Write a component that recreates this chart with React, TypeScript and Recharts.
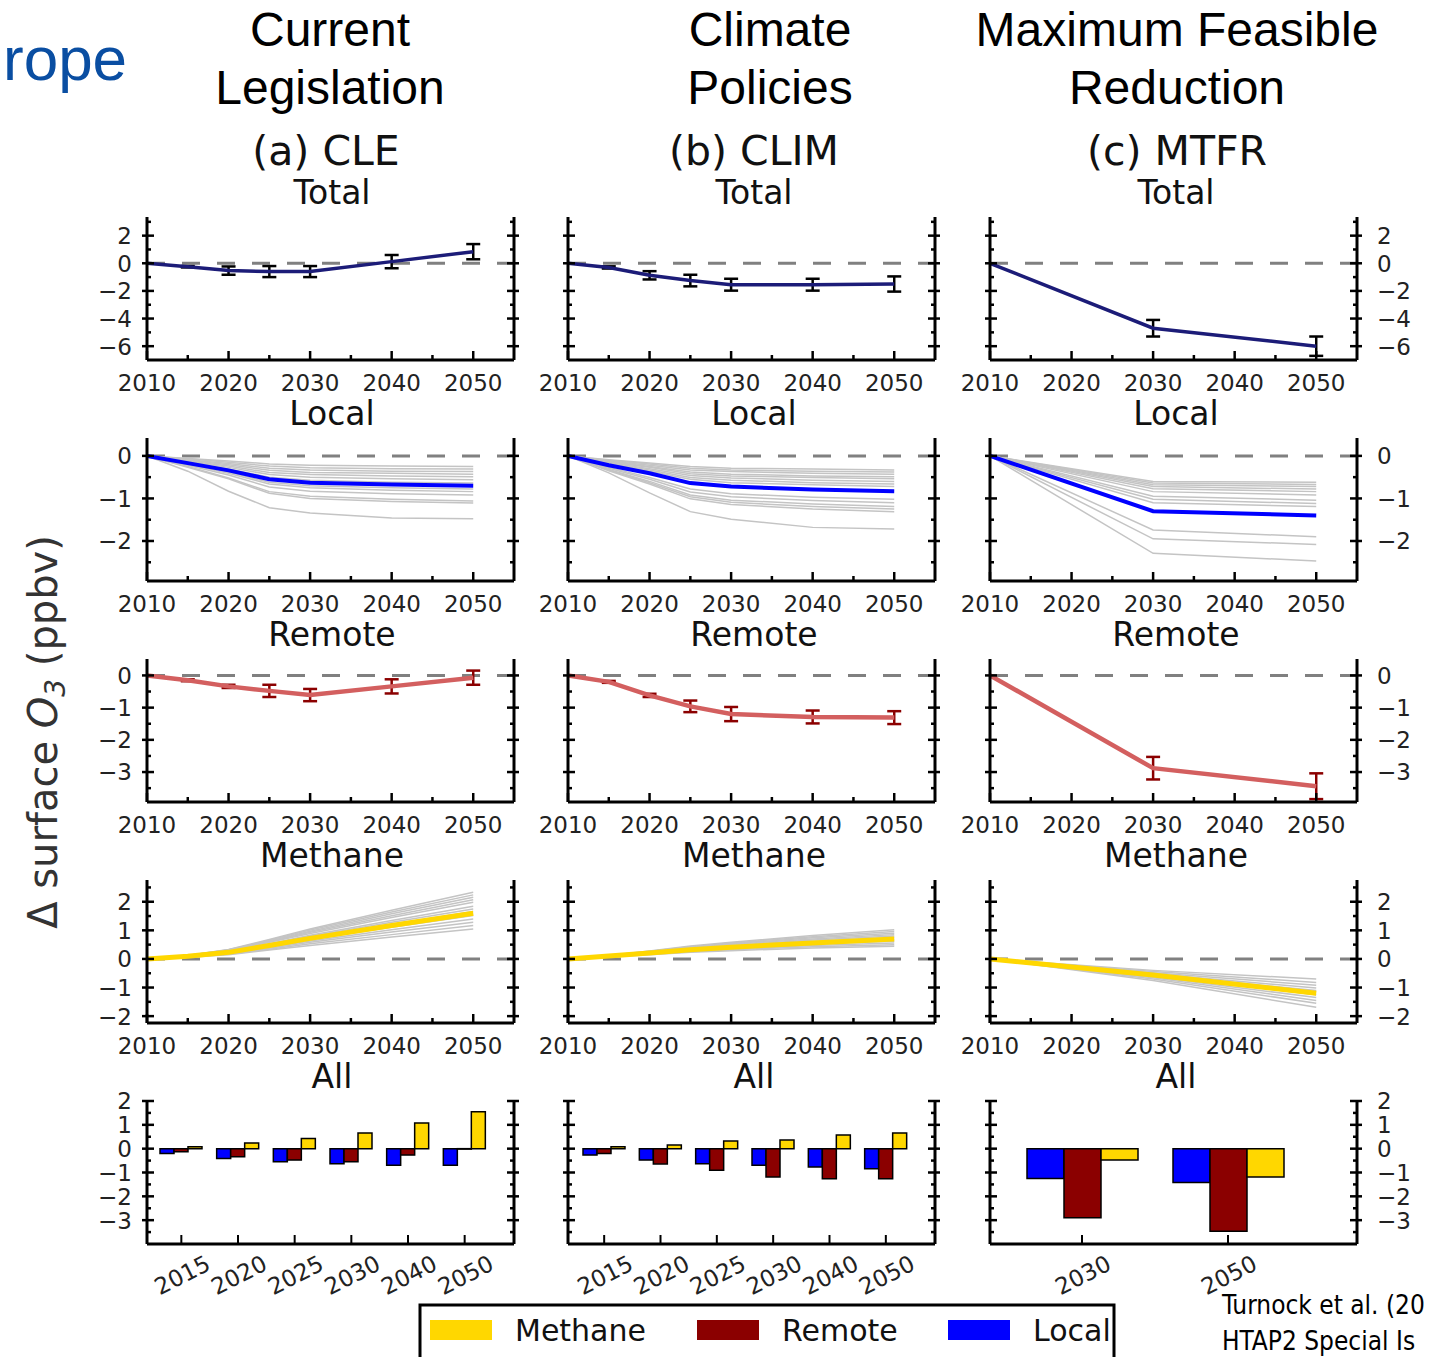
import { ComposedChart, Line, Bar, XAxis, YAxis, ReferenceLine, ErrorBar } from "recharts";

// ---- data ----
const YEARS = [2010, 2015, 2020, 2025, 2030, 2040, 2050];
const YEARS_MTFR = [2010, 2030, 2050];
const X_MAJOR = [2010, 2020, 2030, 2040, 2050];
const X_MINOR = [2015, 2025, 2035, 2045];

const BAR_CATS = ["2015", "2020", "2025", "2030", "2040", "2050"];
const BAR_CATS_MTFR = ["2030", "2050"];

// Total
const CLE_TOTAL = [0, -0.25, -0.53, -0.6, -0.6, 0.12, 0.84];
const CLE_TOTAL_ERR = [0, 0.05, 0.3, 0.4, 0.4, 0.48, 0.55];
const CLIM_TOTAL = [0, -0.3, -0.87, -1.25, -1.55, -1.55, -1.5];
const CLIM_TOTAL_ERR = [0, 0.08, 0.3, 0.42, 0.43, 0.43, 0.55];
const MTFR_TOTAL = [0, -4.7, -6.0];
const MTFR_TOTAL_ERR = [0, 0.6, 0.7];

// Local
const CLE_LOCAL = [0, -0.17, -0.34, -0.55, -0.63, -0.67, -0.7];
const CLE_LOCAL_GRAY = [
  [0, -0.06, -0.12, -0.19, -0.22, -0.24, -0.25],
  [0, -0.07, -0.15, -0.24, -0.28, -0.3, -0.31],
  [0, -0.09, -0.18, -0.29, -0.33, -0.36, -0.37],
  [0, -0.1, -0.21, -0.34, -0.39, -0.41, -0.43],
  [0, -0.12, -0.24, -0.39, -0.44, -0.47, -0.49],
  [0, -0.13, -0.27, -0.44, -0.5, -0.54, -0.56],
  [0, -0.15, -0.31, -0.5, -0.57, -0.62, -0.64],
  [0, -0.19, -0.38, -0.62, -0.7, -0.75, -0.78],
  [0, -0.2, -0.41, -0.66, -0.75, -0.81, -0.84],
  [0, -0.22, -0.45, -0.73, -0.83, -0.89, -0.92],
  [0, -0.25, -0.52, -0.84, -0.95, -1.02, -1.06],
  [0, -0.27, -0.54, -0.88, -1.0, -1.07, -1.11],
  [0, -0.36, -0.83, -1.22, -1.34, -1.46, -1.48],
];
const CLIM_LOCAL = [0, -0.22, -0.41, -0.64, -0.72, -0.79, -0.83];
const CLIM_LOCAL_GRAY = [
  [0, -0.09, -0.17, -0.25, -0.29, -0.31, -0.33],
  [0, -0.1, -0.19, -0.29, -0.33, -0.36, -0.38],
  [0, -0.12, -0.22, -0.33, -0.37, -0.41, -0.43],
  [0, -0.13, -0.25, -0.38, -0.43, -0.47, -0.49],
  [0, -0.15, -0.27, -0.42, -0.47, -0.51, -0.54],
  [0, -0.16, -0.3, -0.46, -0.52, -0.57, -0.6],
  [0, -0.18, -0.33, -0.51, -0.57, -0.63, -0.66],
  [0, -0.2, -0.36, -0.55, -0.63, -0.68, -0.72],
  [0, -0.27, -0.51, -0.78, -0.89, -0.97, -1.02],
  [0, -0.29, -0.55, -0.85, -0.96, -1.05, -1.1],
  [0, -0.32, -0.6, -0.92, -1.04, -1.13, -1.19],
  [0, -0.33, -0.63, -0.96, -1.09, -1.19, -1.25],
  [0, -0.35, -0.66, -1.01, -1.14, -1.25, -1.31],
  [0, -0.4, -0.87, -1.31, -1.49, -1.68, -1.72],
];
const MTFR_LOCAL = [0, -1.3, -1.4];
const MTFR_LOCAL_GRAY = [
  [0, -0.6, -0.62],
  [0, -0.64, -0.67],
  [0, -0.68, -0.72],
  [0, -0.72, -0.78],
  [0, -0.77, -0.84],
  [0, -0.84, -0.92],
  [0, -0.95, -1.04],
  [0, -1.02, -1.12],
  [0, -1.1, -1.19],
  [0, -1.74, -1.9],
  [0, -1.95, -2.08],
  [0, -2.29, -2.47],
];

// Remote
const CLE_REMOTE = [0, -0.15, -0.34, -0.48, -0.61, -0.34, -0.07];
const CLE_REMOTE_ERR = [0, 0.03, 0.05, 0.19, 0.19, 0.22, 0.22];
const CLIM_REMOTE = [0, -0.2, -0.62, -0.96, -1.2, -1.29, -1.31];
const CLIM_REMOTE_ERR = [0, 0.03, 0.05, 0.18, 0.22, 0.2, 0.2];
const MTFR_REMOTE = [0, -2.88, -3.44];
const MTFR_REMOTE_ERR = [0, 0.35, 0.4];

// Methane
const CLE_METH = [0, 0.09, 0.23, 0.47, 0.72, 1.17, 1.6];
const CLE_METH_GRAY = [
  [0, 0.12, 0.33, 0.68, 1.05, 1.7, 2.33],
  [0, 0.12, 0.32, 0.65, 1.01, 1.64, 2.24],
  [0, 0.12, 0.31, 0.63, 0.97, 1.58, 2.16],
  [0, 0.11, 0.3, 0.6, 0.93, 1.51, 2.07],
  [0, 0.11, 0.29, 0.58, 0.89, 1.45, 1.98],
  [0, 0.1, 0.26, 0.53, 0.83, 1.34, 1.84],
  [0, 0.1, 0.25, 0.51, 0.79, 1.28, 1.75],
  [0, 0.09, 0.24, 0.49, 0.75, 1.21, 1.66],
  [0, 0.08, 0.22, 0.45, 0.68, 1.11, 1.52],
  [0, 0.08, 0.2, 0.41, 0.63, 1.02, 1.4],
  [0, 0.07, 0.18, 0.37, 0.58, 0.94, 1.28],
  [0, 0.07, 0.17, 0.34, 0.53, 0.85, 1.17],
  [0, 0.06, 0.15, 0.31, 0.47, 0.77, 1.05],
];
const CLIM_METH = [0, 0.1, 0.21, 0.32, 0.41, 0.56, 0.7];
const CLIM_METH_GRAY = [
  [0, 0.12, 0.28, 0.45, 0.58, 0.82, 1.02],
  [0, 0.12, 0.27, 0.43, 0.56, 0.78, 0.96],
  [0, 0.11, 0.26, 0.41, 0.53, 0.74, 0.9],
  [0, 0.11, 0.25, 0.39, 0.51, 0.7, 0.85],
  [0, 0.1, 0.24, 0.37, 0.48, 0.66, 0.8],
  [0, 0.1, 0.23, 0.35, 0.45, 0.62, 0.75],
  [0, 0.09, 0.21, 0.32, 0.41, 0.56, 0.68],
  [0, 0.09, 0.2, 0.3, 0.38, 0.52, 0.62],
  [0, 0.08, 0.18, 0.27, 0.35, 0.47, 0.56],
  [0, 0.08, 0.17, 0.25, 0.32, 0.43, 0.5],
  [0, 0.07, 0.15, 0.23, 0.29, 0.38, 0.44],
];
const MTFR_METH = [0, -0.56, -1.2];
const MTFR_METH_GRAY = [
  [0, -0.4, -0.7],
  [0, -0.44, -0.82],
  [0, -0.48, -0.92],
  [0, -0.52, -1.02],
  [0, -0.55, -1.1],
  [0, -0.58, -1.25],
  [0, -0.62, -1.35],
  [0, -0.66, -1.45],
  [0, -0.7, -1.55],
  [0, -0.75, -1.69],
];

// All (bars)
const CLE_BAR_LOCAL = [-0.2, -0.41, -0.55, -0.63, -0.7, -0.7];
const CLE_BAR_REMOTE = [-0.13, -0.34, -0.48, -0.55, -0.27, -0.02];
const CLE_BAR_METH = [0.08, 0.24, 0.43, 0.66, 1.08, 1.55];
const CLIM_BAR_LOCAL = [-0.27, -0.48, -0.63, -0.7, -0.77, -0.84];
const CLIM_BAR_REMOTE = [-0.2, -0.64, -0.91, -1.19, -1.26, -1.26];
const CLIM_BAR_METH = [0.08, 0.15, 0.32, 0.36, 0.57, 0.66];
const MTFR_BAR_LOCAL = [-1.25, -1.42];
const MTFR_BAR_REMOTE = [-2.9, -3.46];
const MTFR_BAR_METH = [-0.48, -1.19];

// y axes per row
const TOTAL_MAJOR = [2, 0, -2, -4, -6];
const TOTAL_MINOR = [3, 1, -1, -3, -5];
const LOCAL_MAJOR = [0, -1, -2];
const LOCAL_MINOR = [-0.5, -1.5, -2.5];
const REMOTE_MAJOR = [0, -1, -2, -3];
const REMOTE_MINOR = [-0.5, -1.5, -2.5, -3.5];
const METH_MAJOR = [2, 1, 0, -1, -2];
const METH_MINOR = [2.5, 1.5, 0.5, -0.5, -1.5];
const BAR_MAJOR = [2, 1, 0, -1, -2, -3];
const BAR_MINOR = [1.5, 0.5, -0.5, -1.5, -2.5, -3.5];

const HEADERS = [
  ["Current", "Legislation"],
  ["Climate", "Policies"],
  ["Maximum Feasible", "Reduction"],
];
const SCENARIOS = ["(a) CLE", "(b) CLIM", "(c) MTFR"];
const ROW_TITLES = ["Total", "Local", "Remote", "Methane", "All"];
const LEGEND_LABELS = ["Methane", "Remote", "Local"];
const CITATION = ["Turnock et al. (20", "HTAP2 Special Is"];

// ---- styling / layout ----
const FONT = "'DejaVu Sans', sans-serif";
const NAVY = "#1c1c78";
const BLUE = "#0000ff";
const RED_LINE = "#d35f5f";
const DARK_RED = "#8b0000";
const GOLD = "#ffd700";
const GRAY = "#c4c4c4";
const LEGEND_COLORS = [GOLD, DARK_RED, BLUE];

const COL_LEFTS = [147, 568, 990];
const COL_CENTERS = [332, 754, 1176];
const ROW_TOPS = [217, 438, 659, 880, 1101];
const PW = 367;
const PH = 143;
const SIDE = 70;
const PAD_TOP = 22;
const AX = { stroke: "#000", strokeWidth: 3 };

const fmt = (v: number) => (v < 0 ? "\u2212" + Math.abs(v) : String(v));

function makeYTick(majors: number[], side: "left" | "right", labels: boolean) {
  return (p: any) => {
    const { x, y, payload } = p;
    const v = Number(payload.value);
    const major = majors.includes(v);
    const dir = side === "left" ? 1 : -1;
    return (
      <g>
        <line
          x1={x - dir * (major ? 5 : 0)}
          x2={x + dir * (major ? 7 : 4)}
          y1={y}
          y2={y}
          stroke="#000"
          strokeWidth={2.5}
        />
        {major && labels ? (
          <text
            x={side === "left" ? x - 15 : x + 20}
            y={y + 8.4}
            textAnchor={side === "left" ? "end" : "start"}
            fontSize={23}
            fontFamily={FONT}
            fill="#222"
          >
            {fmt(v)}
          </text>
        ) : null}
      </g>
    );
  };
}

const yearTick = (p: any) => {
  const { x, y, payload } = p;
  const major = X_MAJOR.includes(payload.value);
  return (
    <g>
      <line x1={x} x2={x} y1={y} y2={y - (major ? 9 : 5)} stroke="#000" strokeWidth={2.5} />
      {major ? (
        <text x={x} y={y + 31} textAnchor="middle" fontSize={23} fontFamily={FONT} fill="#222">
          {payload.value}
        </text>
      ) : null}
    </g>
  );
};

const catTick = (p: any) => {
  const { x, y, payload } = p;
  return (
    <g>
      <line x1={x} x2={x} y1={y} y2={y - 9} stroke="#000" strokeWidth={2} />
      <text
        x={x + 1}
        y={y + 31}
        textAnchor="middle"
        dominantBaseline="central"
        fontSize={23}
        fontFamily={FONT}
        fill="#222"
        transform={`rotate(-27 ${x + 1} ${y + 31})`}
      >
        {payload.value}
      </text>
    </g>
  );
};

interface LineProps {
  col: number;
  row: number;
  years: number[];
  main: number[];
  err?: number[];
  gray: number[][];
  color: string;
  lineWidth: number;
  errColor?: string;
  domain: [number, number];
  majors: number[];
  minors: number[];
}

function LinePanel({ col, row, years, main, err, gray, color, lineWidth, errColor, domain, majors, minors }: LineProps) {
  const data = years.map((yr, i) => {
    const r: Record<string, number | undefined> = { year: yr, v: main[i], e: err ? err[i] : undefined };
    gray.forEach((g, j) => {
      r["g" + j] = g[i];
    });
    return r;
  });
  const yt = [...majors, ...minors];
  return (
    <div style={{ position: "absolute", left: COL_LEFTS[col] - SIDE, top: ROW_TOPS[row] - PAD_TOP }}>
      <ComposedChart
        width={PW + 2 * SIDE}
        height={PAD_TOP + PH + 45}
        data={data}
        margin={{ top: PAD_TOP, right: 0, bottom: 0, left: 0 }}
      >
        <XAxis
          dataKey="year"
          type="number"
          domain={[2010, 2055]}
          allowDataOverflow
          ticks={[...X_MAJOR, ...X_MINOR]}
          interval={0}
          height={45}
          tickSize={0}
          tickMargin={0}
          tickLine={false}
          axisLine={AX}
          tick={yearTick}
        />
        <XAxis xAxisId="top" orientation="top" type="number" domain={[0, 1]} height={0} tick={false} tickLine={false} axisLine={AX} />
        <YAxis
          type="number"
          domain={domain}
          allowDataOverflow
          ticks={yt}
          interval={0}
          width={SIDE}
          tickSize={0}
          tickMargin={0}
          tickLine={false}
          axisLine={AX}
          tick={makeYTick(majors, "left", col === 0)}
        />
        <YAxis
          yAxisId="r"
          orientation="right"
          type="number"
          domain={domain}
          allowDataOverflow
          ticks={yt}
          interval={0}
          width={SIDE}
          tickSize={0}
          tickMargin={0}
          tickLine={false}
          axisLine={AX}
          tick={makeYTick(majors, "right", col === 2)}
        />
        <ReferenceLine y={0} stroke="#808080" strokeWidth={3} strokeDasharray="18 17" />
        {gray.map((_, j) => (
          <Line key={j} dataKey={"g" + j} stroke={GRAY} strokeWidth={1.5} dot={false} isAnimationActive={false} />
        ))}
        <Line dataKey="v" stroke={color} strokeWidth={lineWidth} dot={false} isAnimationActive={false}>
          {err ? <ErrorBar dataKey="e" direction="y" width={7} strokeWidth={2.5} stroke={errColor} /> : null}
        </Line>
      </ComposedChart>
    </div>
  );
}

interface BarProps {
  col: number;
  cats: string[];
  local: number[];
  remote: number[];
  methane: number[];
  padL: number;
  padR: number;
  barSize: number;
}

function BarPanel({ col, cats, local, remote, methane, padL, padR, barSize }: BarProps) {
  const data = cats.map((c, i) => ({ cat: c, local: local[i], remote: remote[i], methane: methane[i] }));
  const yt = [...BAR_MAJOR, ...BAR_MINOR];
  return (
    <div style={{ position: "absolute", left: COL_LEFTS[col] - SIDE, top: ROW_TOPS[4] - PAD_TOP }}>
      <ComposedChart
        width={PW + 2 * SIDE}
        height={PAD_TOP + PH + 65}
        data={data}
        margin={{ top: PAD_TOP, right: 0, bottom: 0, left: 0 }}
        barGap={0}
      >
        <XAxis
          dataKey="cat"
          type="category"
          padding={{ left: padL, right: padR }}
          interval={0}
          height={65}
          tickSize={0}
          tickMargin={0}
          tickLine={false}
          axisLine={AX}
          tick={catTick}
        />
        <XAxis xAxisId="top" orientation="top" type="number" domain={[0, 1]} height={0} tick={false} tickLine={false} axisLine={AX} />
        <YAxis
          type="number"
          domain={[-4, 2]}
          allowDataOverflow
          ticks={yt}
          interval={0}
          width={SIDE}
          tickSize={0}
          tickMargin={0}
          tickLine={false}
          axisLine={AX}
          tick={makeYTick(BAR_MAJOR, "left", col === 0)}
        />
        <YAxis
          yAxisId="r"
          orientation="right"
          type="number"
          domain={[-4, 2]}
          allowDataOverflow
          ticks={yt}
          interval={0}
          width={SIDE}
          tickSize={0}
          tickMargin={0}
          tickLine={false}
          axisLine={AX}
          tick={makeYTick(BAR_MAJOR, "right", col === 2)}
        />
        <Bar dataKey="local" fill={BLUE} stroke="#000" strokeWidth={1.5} barSize={barSize} isAnimationActive={false} />
        <Bar dataKey="remote" fill={DARK_RED} stroke="#000" strokeWidth={1.5} barSize={barSize} isAnimationActive={false} />
        <Bar dataKey="methane" fill={GOLD} stroke="#000" strokeWidth={1.5} barSize={barSize} isAnimationActive={false} />
      </ComposedChart>
    </div>
  );
}

const TOTAL_DOMAIN: [number, number] = [-7, 3.35];
const LOCAL_DOMAIN: [number, number] = [-2.94, 0.42];
const REMOTE_DOMAIN: [number, number] = [-3.93, 0.51];
const METH_DOMAIN: [number, number] = [-2.24, 2.76];

const LEGEND_X = [430, 697, 948];

export default function App() {
  return (
    <div
      style={{
        position: "absolute",
        left: 0,
        top: 0,
        width: 1435,
        height: 1357,
        overflow: "hidden",
        background: "#fff",
      }}
    >
      {/* Total */}
      <LinePanel col={0} row={0} years={YEARS} main={CLE_TOTAL} err={CLE_TOTAL_ERR} gray={[]} color={NAVY} lineWidth={3.5} errColor="#000" domain={TOTAL_DOMAIN} majors={TOTAL_MAJOR} minors={TOTAL_MINOR} />
      <LinePanel col={1} row={0} years={YEARS} main={CLIM_TOTAL} err={CLIM_TOTAL_ERR} gray={[]} color={NAVY} lineWidth={3.5} errColor="#000" domain={TOTAL_DOMAIN} majors={TOTAL_MAJOR} minors={TOTAL_MINOR} />
      <LinePanel col={2} row={0} years={YEARS_MTFR} main={MTFR_TOTAL} err={MTFR_TOTAL_ERR} gray={[]} color={NAVY} lineWidth={3.5} errColor="#000" domain={TOTAL_DOMAIN} majors={TOTAL_MAJOR} minors={TOTAL_MINOR} />
      {/* Local */}
      <LinePanel col={0} row={1} years={YEARS} main={CLE_LOCAL} gray={CLE_LOCAL_GRAY} color={BLUE} lineWidth={4} domain={LOCAL_DOMAIN} majors={LOCAL_MAJOR} minors={LOCAL_MINOR} />
      <LinePanel col={1} row={1} years={YEARS} main={CLIM_LOCAL} gray={CLIM_LOCAL_GRAY} color={BLUE} lineWidth={4} domain={LOCAL_DOMAIN} majors={LOCAL_MAJOR} minors={LOCAL_MINOR} />
      <LinePanel col={2} row={1} years={YEARS_MTFR} main={MTFR_LOCAL} gray={MTFR_LOCAL_GRAY} color={BLUE} lineWidth={4} domain={LOCAL_DOMAIN} majors={LOCAL_MAJOR} minors={LOCAL_MINOR} />
      {/* Remote */}
      <LinePanel col={0} row={2} years={YEARS} main={CLE_REMOTE} err={CLE_REMOTE_ERR} gray={[]} color={RED_LINE} lineWidth={4.5} errColor={DARK_RED} domain={REMOTE_DOMAIN} majors={REMOTE_MAJOR} minors={REMOTE_MINOR} />
      <LinePanel col={1} row={2} years={YEARS} main={CLIM_REMOTE} err={CLIM_REMOTE_ERR} gray={[]} color={RED_LINE} lineWidth={4.5} errColor={DARK_RED} domain={REMOTE_DOMAIN} majors={REMOTE_MAJOR} minors={REMOTE_MINOR} />
      <LinePanel col={2} row={2} years={YEARS_MTFR} main={MTFR_REMOTE} err={MTFR_REMOTE_ERR} gray={[]} color={RED_LINE} lineWidth={4.5} errColor={DARK_RED} domain={REMOTE_DOMAIN} majors={REMOTE_MAJOR} minors={REMOTE_MINOR} />
      {/* Methane */}
      <LinePanel col={0} row={3} years={YEARS} main={CLE_METH} gray={CLE_METH_GRAY} color={GOLD} lineWidth={5} domain={METH_DOMAIN} majors={METH_MAJOR} minors={METH_MINOR} />
      <LinePanel col={1} row={3} years={YEARS} main={CLIM_METH} gray={CLIM_METH_GRAY} color={GOLD} lineWidth={5} domain={METH_DOMAIN} majors={METH_MAJOR} minors={METH_MINOR} />
      <LinePanel col={2} row={3} years={YEARS_MTFR} main={MTFR_METH} gray={MTFR_METH_GRAY} color={GOLD} lineWidth={5} domain={METH_DOMAIN} majors={METH_MAJOR} minors={METH_MINOR} />
      {/* All */}
      <BarPanel col={0} cats={BAR_CATS} local={CLE_BAR_LOCAL} remote={CLE_BAR_REMOTE} methane={CLE_BAR_METH} padL={6} padR={21} barSize={14} />
      <BarPanel col={1} cats={BAR_CATS} local={CLIM_BAR_LOCAL} remote={CLIM_BAR_REMOTE} methane={CLIM_BAR_METH} padL={8} padR={21} barSize={14} />
      <BarPanel col={2} cats={BAR_CATS_MTFR} local={MTFR_BAR_LOCAL} remote={MTFR_BAR_REMOTE} methane={MTFR_BAR_METH} padL={19} padR={56} barSize={37} />

      <svg width={1435} height={1357} style={{ position: "absolute", left: 0, top: 0, pointerEvents: "none" }}>
        <text x={3} y={80} fontSize={62} fontFamily="'Liberation Sans', Arial, sans-serif" fill="#0a4ea2">
          rope
        </text>
        {HEADERS.map((lines, c) =>
          lines.map((t, k) => (
            <text
              key={c + "-" + k}
              x={[330, 770, 1177][c]}
              y={46 + k * 58}
              textAnchor="middle"
              fontSize={48}
              fontFamily="'Liberation Sans', Arial, sans-serif"
              fill="#000"
            >
              {t}
            </text>
          ))
        )}
        {SCENARIOS.map((t, c) => (
          <text key={t} x={[326, 754, 1177][c]} y={165} textAnchor="middle" fontSize={41} fontFamily={FONT} fill="#111">
            {t}
          </text>
        ))}
        {ROW_TITLES.map((t, r) =>
          COL_CENTERS.map((cx, c) => (
            <text key={t + c} x={cx} y={204 + r * 221} textAnchor="middle" fontSize={33} fontFamily={FONT} fill="#111">
              {t}
            </text>
          ))
        )}
        <text transform="translate(57,732) rotate(-90)" textAnchor="middle" fontSize={40} fontFamily={FONT} fill="#333">
          {"\u0394 surface "}
          <tspan fontStyle="italic">O</tspan>
          <tspan fontSize={28} fontStyle="italic" dy={8}>
            3
          </tspan>
          <tspan dy={-8}>{" (ppbv)"}</tspan>
        </text>
        <rect x={420} y={1305} width={694} height={70} fill="#fff" stroke="#000" strokeWidth={3} />
        {LEGEND_LABELS.map((t, i) => (
          <g key={t}>
            <rect x={LEGEND_X[i]} y={1320} width={62} height={20} fill={LEGEND_COLORS[i]} />
            <text x={LEGEND_X[i] + 85} y={1341} fontSize={30} fontFamily={FONT} fill="#111">
              {t}
            </text>
          </g>
        ))}
        {CITATION.map((t, i) => (
          <text
            key={t}
            x={1222}
            y={1314 + i * 36}
            fontSize={26}
            fontFamily="'Liberation Sans Narrow', 'DejaVu Sans Condensed', sans-serif"
            fill="#000"
          >
            {t}
          </text>
        ))}
      </svg>
    </div>
  );
}
